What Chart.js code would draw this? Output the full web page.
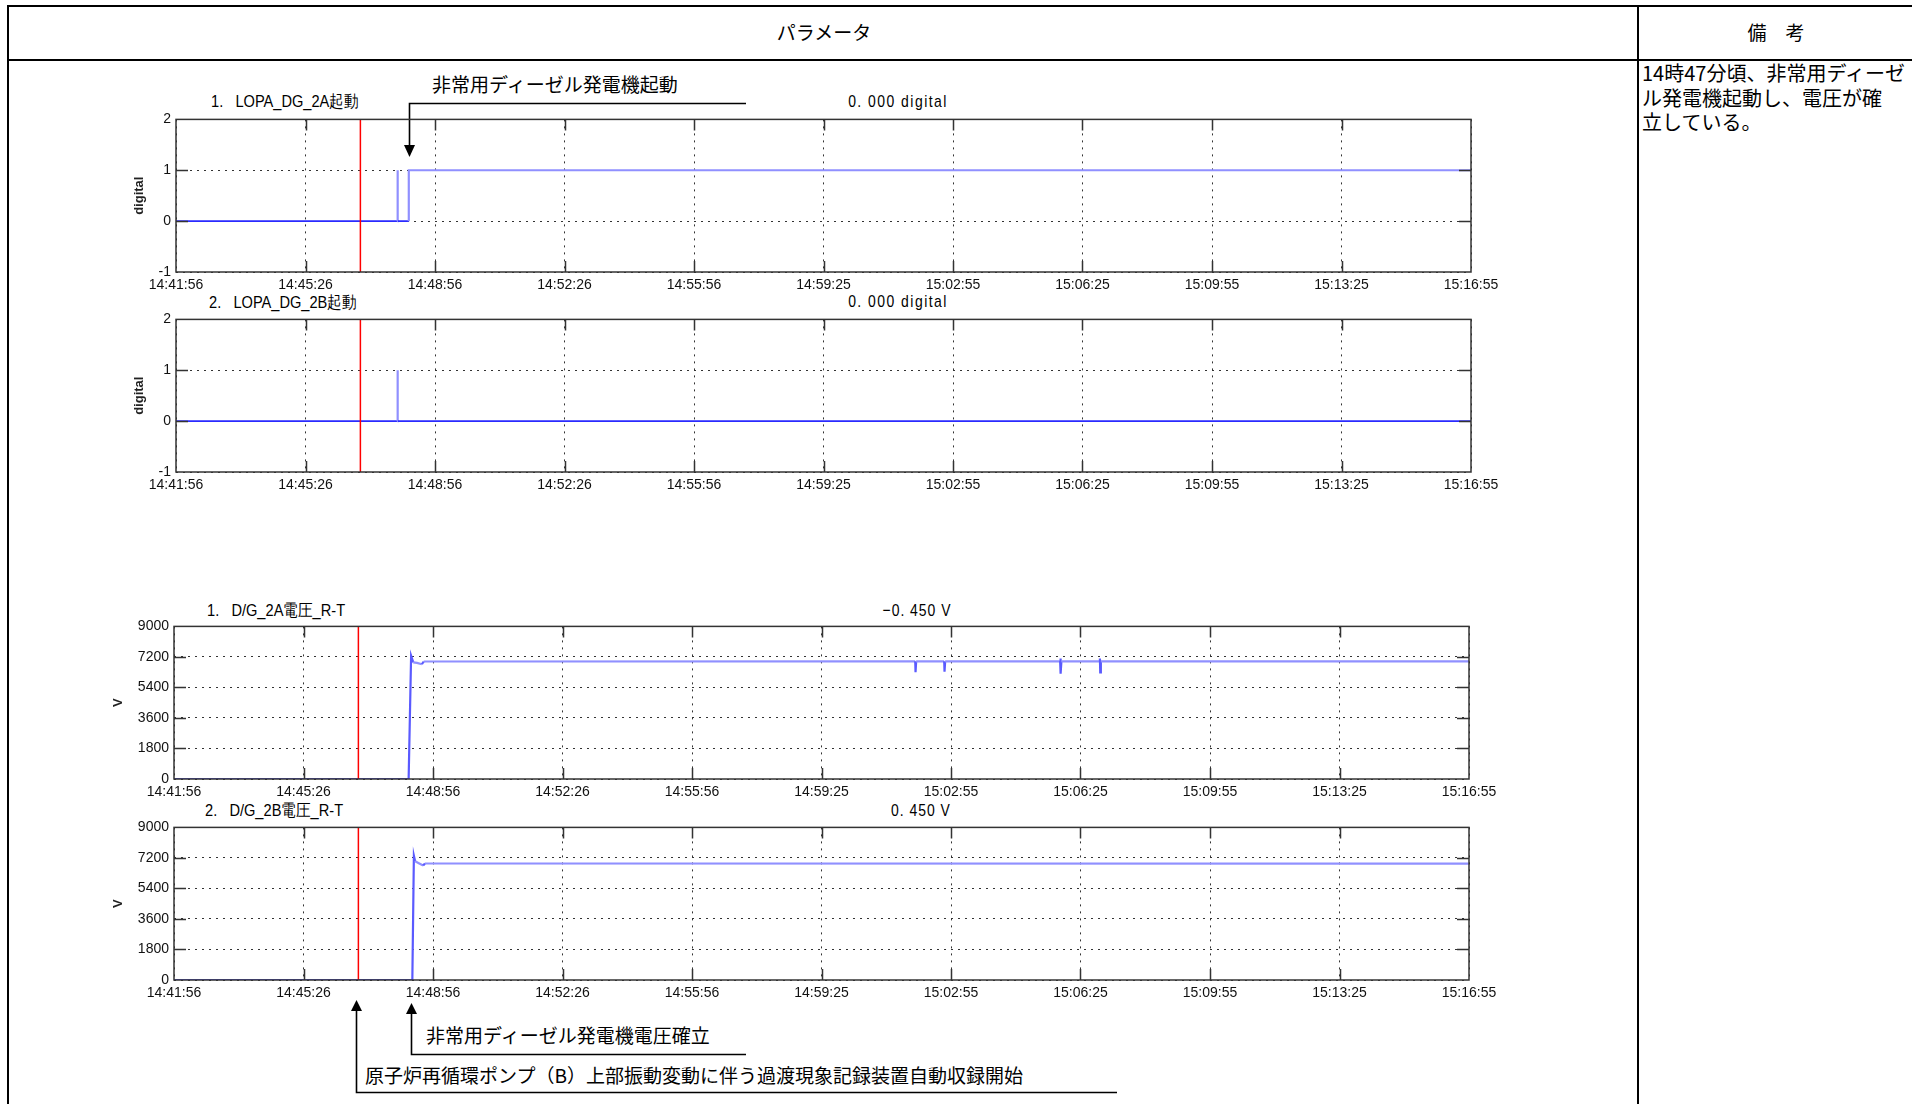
<!DOCTYPE html>
<html><head><meta charset="utf-8">
<script src="https://cdn.jsdelivr.net/npm/chart.js@4.4.1/dist/chart.umd.min.js"></script>
<style>
html,body{margin:0;padding:0;background:#fff;width:1912px;height:1104px;overflow:hidden;position:relative;}
.ln{position:absolute;background:#000;}
.t{position:absolute;white-space:pre;color:#000;}
.jp{font-family:"Noto Sans CJK JP",sans-serif;}
.nar{font-family:"Liberation Sans",Arial,sans-serif;font-size:17px;line-height:20px;}
.nl{transform:scaleX(0.86);transform-origin:0 50%;}
.nc{transform:scaleX(0.82);transform-origin:50% 50%;text-align:center;width:300px;}
canvas{position:absolute;}
svg{position:absolute;left:0;top:0;}
</style></head><body>
<!-- table frame -->
<div class="ln" style="left:7px;top:5px;width:1905px;height:2px"></div>
<div class="ln" style="left:7px;top:59px;width:1905px;height:2px"></div>
<div class="ln" style="left:7px;top:5px;width:2px;height:1099px"></div>
<div class="ln" style="left:1637px;top:5px;width:2px;height:1099px"></div>
<div class="t jp" style="left:724px;top:20px;width:200px;text-align:center;font-size:19px;line-height:24px">パラメータ</div>
<div class="t jp" style="left:1676px;top:20px;width:200px;text-align:center;font-size:19px;line-height:24px">備　考</div>
<div class="t jp" style="left:1642px;top:61px;font-size:20px;line-height:24.5px">14時47分頃、非常用ディーゼ<br>ル発電機起動し、電圧が確<br>立している。</div>

<!-- panel titles -->
<div class="t nar nl" style="left:211px;top:92px">1.   LOPA_DG_2A起動</div>
<div class="t nar nc" style="left:748px;top:92px;letter-spacing:1.8px">0. 000 digital</div>
<div class="t nar nl" style="left:209px;top:293px">2.   LOPA_DG_2B起動</div>
<div class="t nar nc" style="left:748px;top:292px;letter-spacing:1.8px">0. 000 digital</div>
<div class="t nar nl" style="left:207px;top:601px">1.   D/G_2A電圧_R-T</div>
<div class="t nar nc" style="left:767px;top:601px;letter-spacing:1.2px">−0. 450 V</div>
<div class="t nar nl" style="left:205px;top:801px">2.   D/G_2B電圧_R-T</div>
<div class="t nar nc" style="left:771px;top:801px;letter-spacing:1.2px">0. 450 V</div>

<!-- annotations -->
<div class="t jp" style="left:432px;top:72px;font-size:19px;line-height:24px">非常用ディーゼル発電機起動</div>
<div class="t jp" style="left:426px;top:1023px;font-size:19px;line-height:24px">非常用ディーゼル発電機電圧確立</div>
<div class="t jp" style="left:365px;top:1063px;font-size:19px;line-height:24px">原子炉再循環ポンプ（B）上部振動変動に伴う過渡現象記録装置自動収録開始</div>
<svg width="1912" height="1104">
  <path d="M746 103.5 H409.5 V147" stroke="#000" stroke-width="1.6" fill="none"/>
  <polygon points="404,145 415,145 409.5,157" fill="#000"/>
  <path d="M746 1054.5 H411.5 V1012" stroke="#000" stroke-width="1.6" fill="none"/>
  <polygon points="406,1014 417,1014 411.5,1003" fill="#000"/>
  <path d="M1117 1092.5 H356.5 V1009" stroke="#000" stroke-width="1.6" fill="none"/>
  <polygon points="351,1011 362,1011 356.5,1000" fill="#000"/>
</svg>

<script>
// ---------------- data ----------------
const xTickSec    = [0, 210, 420, 630, 840, 1050, 1260, 1470, 1680, 1890, 2100]; // seconds from 14:41:56
const xTickLabels = ['14:41:56','14:45:26','14:48:56','14:52:26','14:55:56','14:59:25','15:02:55','15:06:25','15:09:55','15:13:25','15:16:55'];
const yTicksDigital = [-1, 0, 1, 2];
const yTicksVolt    = [0, 1800, 3600, 5400, 7200, 9000];
const triggerSec = 299; // 過渡現象記録装置 自動収録開始 (red line)

// 1. LOPA_DG_2A起動
const dg2aStartT = [0, 359, 359, 359.7, 359.7, 377.5, 377.5, 2100];
const dg2aStartV = [0, 0, 1, 1, 0, 0, 1, 1];
// 2. LOPA_DG_2B起動
const dg2bStartT = [0, 359, 359, 359.7, 359.7, 2100];
const dg2bStartV = [0, 0, 1, 1, 0, 0];
// 1. D/G_2A電圧_R-T
const dg2aVoltT = [0, 380.5, 384.5, 388, 394, 402, 405, 1202, 1202.5, 1203.5, 1249, 1249.5, 1250.5, 1437, 1437.5, 1438, 1439, 1501, 1501.5, 1502, 1503, 2100];
const dg2aVoltV = [0, 0, 7270, 6880, 6850, 6770, 6930, 6940, 6300, 6940, 6940, 6330, 6940, 6940, 7110, 6210, 6940, 6940, 7110, 6280, 6940, 6940];
// 2. D/G_2B電圧_R-T
const dg2bVoltT = [0, 386.5, 389, 391, 397, 404, 407, 2100];
const dg2bVoltV = [0, 0, 7330, 7000, 6890, 6750, 6870, 6860];

// ---------------- styling ----------------
function fontAvailable(fam){
  const c=document.createElement('canvas').getContext('2d');
  const s='14:41:56 0123456789 abcdefg';
  c.font='40px monospace'; const a=c.measureText(s).width;
  c.font='40px "'+fam+'", monospace'; const b=c.measureText(s).width;
  return Math.abs(a-b)>1;
}
const narrow = fontAvailable('Liberation Sans Narrow');
const tickFont = narrow ? {family:'"Liberation Sans Narrow"', size:17} : {family:'"Liberation Sans"', size:14};
const xPad = narrow ? 3 : 5;

const DARK='#2a2aff', MID='#5a5aff', LIGHT='#9090ff';
const segDigital = c => (c.p0.parsed.y===0 && c.p1.parsed.y===0) ? DARK : LIGHT;
const segVolt = c => (c.p0.parsed.y===0 && c.p1.parsed.y===0) ? DARK :
   (Math.abs(c.p1.parsed.x-c.p0.parsed.x) <= 4 ? MID : LIGHT);
const segW = c => (c.p0.parsed.y===0 && c.p1.parsed.y===0) ? 1.6 : 2.2;

const framePlugin = {
  id:'frame',
  afterDatasetsDraw(chart){
    const {ctx, chartArea:a, scales:{x, y}} = chart;
    ctx.save();
    ctx.strokeStyle='#333'; ctx.lineWidth=1.5; ctx.setLineDash([]);
    ctx.beginPath();
    x.ticks.forEach(t=>{
      const p=Math.round(x.getPixelForValue(t.value))+0.5;
      if (p<=a.left+2 || p>=a.right-2) return;
      ctx.moveTo(p,a.top); ctx.lineTo(p,a.top+11);
      ctx.moveTo(p,a.bottom); ctx.lineTo(p,a.bottom-11);
    });
    y.ticks.forEach(t=>{
      const p=Math.round(y.getPixelForValue(t.value))+0.5;
      if (p<=a.top+2 || p>=a.bottom-2) return;
      ctx.moveTo(a.left,p); ctx.lineTo(a.left+12,p);
      ctx.moveTo(a.right,p); ctx.lineTo(a.right-12,p);
    });
    ctx.stroke();
    ctx.strokeRect(a.left, a.top, a.right-a.left, a.bottom-a.top);
    ctx.restore();
  }
};

function makeChart(o){
  const left=100, padTop=10, padRight=40, xH=30;
  const W=o.plotR+padRight-left, H=o.plotB-o.plotT+padTop+xH;
  const cv=document.createElement('canvas');
  cv.width=W; cv.height=H;
  cv.style.left=left+'px'; cv.style.top=(o.plotT-padTop)+'px';
  cv.style.width=W+'px'; cv.style.height=H+'px';
  document.body.appendChild(cv);
  const yMin=o.yTicks[0], yMax=o.yTicks[o.yTicks.length-1];
  new Chart(cv, {
    type:'line',
    data:{datasets:[
      {data:[{x:triggerSec,y:yMin},{x:triggerSec,y:yMax}], borderColor:'#ff0000', borderWidth:1.5, pointRadius:0},
      {data:o.t.map((x,i)=>({x, y:o.v[i]})), borderColor:LIGHT, borderWidth:2, pointRadius:0, tension:0,
       segment:{borderColor:o.seg, borderWidth:segW}}
    ]},
    options:{
      responsive:false, animation:false, devicePixelRatio:1,
      layout:{padding:{left:0, top:padTop, right:padRight, bottom:0}},
      plugins:{legend:{display:false}, tooltip:{enabled:false}},
      scales:{
        x:{type:'linear', min:0, max:2100,
           afterBuildTicks:s=>{s.ticks=xTickSec.map(v=>({value:v}));},
           afterFit:s=>{s.height=xH;},
           ticks:{autoSkip:false, maxRotation:0, minRotation:0, padding:xPad, font:tickFont, color:'#111',
                  callback:v=>{const i=xTickSec.indexOf(v); return i>=0?xTickLabels[i]:'';}},
           grid:{color:'#333', lineWidth:1, drawTicks:false},
           border:{display:false, dash:[2,5]}},
        y:{type:'linear', min:yMin, max:yMax,
           afterBuildTicks:s=>{s.ticks=o.yTicks.map(v=>({value:v}));},
           afterFit:s=>{s.width=o.plotL-left;},
           ticks:{padding:5, font:tickFont, color:'#111', callback:v=>String(v)},
           grid:{color:'#333', lineWidth:1, drawTicks:false},
           border:{display:false, dash:[2,5]},
           title:{display:true, text:o.yTitle, color:'#222',
                  font:{family:'"Liberation Sans"', size:13, weight:'bold'},
                  padding:{top:o.yTitlePad, bottom:0}}}
      }
    },
    plugins:[framePlugin]
  });
}

makeChart({plotL:176, plotR:1471, plotT:116, plotB:272, t:dg2aStartT, v:dg2aStartV, yTicks:yTicksDigital, yTitle:'digital', yTitlePad:32, seg:segDigital});
makeChart({plotL:176, plotR:1471, plotT:316, plotB:472, t:dg2bStartT, v:dg2bStartV, yTicks:yTicksDigital, yTitle:'digital', yTitlePad:32, seg:segDigital});
makeChart({plotL:174, plotR:1469, plotT:623, plotB:779, t:dg2aVoltT, v:dg2aVoltV, yTicks:yTicksVolt, yTitle:'V', yTitlePad:11, seg:segVolt});
makeChart({plotL:174, plotR:1469, plotT:824, plotB:980, t:dg2bVoltT, v:dg2bVoltV, yTicks:yTicksVolt, yTitle:'V', yTitlePad:11, seg:segVolt});
</script>
</body></html>
